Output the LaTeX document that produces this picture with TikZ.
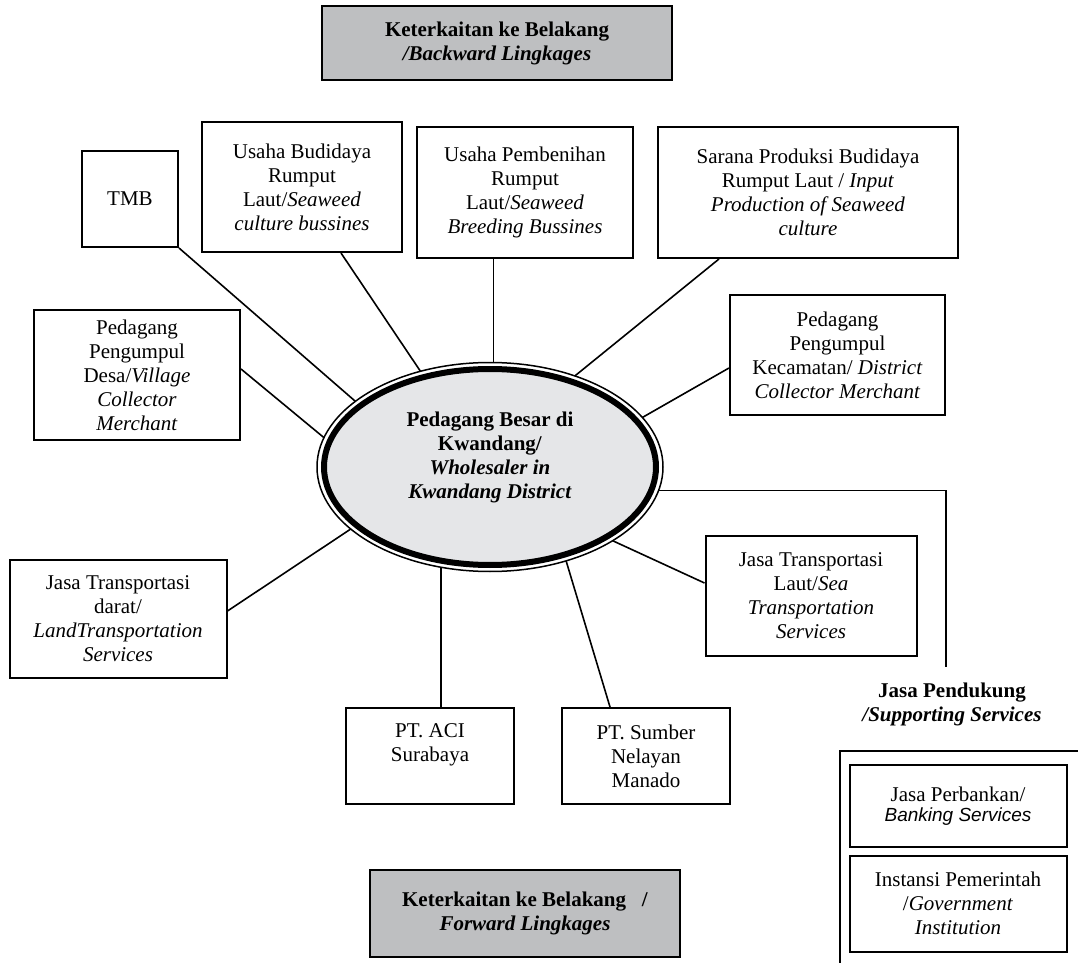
\documentclass[tikz,border=0pt]{standalone}
\usepackage{fontspec}
\setmainfont{Liberation Serif}
\setsansfont{Liberation Sans}
\usepackage{tikz}
\usetikzlibrary{calc,shapes.geometric}
\definecolor{boxgray}{RGB}{190,191,193}
\definecolor{hubgray}{RGB}{229,230,232}

\begin{document}
\begin{tikzpicture}[x=0.5pt, y=-0.5pt,
	box/.style={draw, line width=1pt, rectangle, align=center, inner sep=0pt, font=\fontsize{10.5}{12}\selectfont},
	graybox/.style={box, fill=boxgray, line width=1.2pt},
	link/.style={line width=0.8pt}]
	
	\useasboundingbox (0,0) rectangle (1078,963);
	
	% Centre
	\node[ellipse, draw, line width=3pt, fill=hubgray, minimum width=166pt, minimum height=98pt, inner sep=0pt, outer sep=3.4pt, font=\fontsize{10.5}{12}\selectfont] (hub) at (490,467) {\raisebox{2pt}[0pt][0pt]{\begin{tabular}{@{}c@{}}\textbf{Pedagang Besar di}\\ \textbf{Kwandang/}\\ \textbf{\textit{Wholesaler in}}\\ \textbf{\textit{Kwandang District}}\end{tabular}}};
	\draw[line width=0.75pt] (hub.center) ellipse [x radius=86.5pt, y radius=52.25pt];
	
	% Linkage headers
	\node[graybox, minimum width=175pt, minimum height=37pt] (back) at (497,43) {\textbf{Keterkaitan ke Belakang}\\\textbf{\textit{/Backward Lingkages}}};
	\node[graybox, minimum width=155pt, minimum height=43.5pt] (fwd) at (525,913.5) {\textbf{Keterkaitan ke Belakang\ \ \ /}\\\textbf{\textit{Forward Lingkages}}};
	
	% Boxes
	\node[box, minimum width=48pt, minimum height=48pt] (tmb) at (130,199) {TMB};
	\node[box, minimum width=100pt, minimum height=65pt] (bud) at (302,187) {Usaha Budidaya\\Rumput\\Laut/\textit{Seaweed}\\\textit{culture bussines}};
	\node[box, minimum width=108pt, minimum height=65.5pt] (pemb) at (525,192.5) {Usaha Pembenihan\\Rumput\\Laut/\textit{Seaweed}\\\textit{Breeding Bussines}};
	\node[box, minimum width=150pt, minimum height=65.5pt] (sar) at (808,192.5) {Sarana Produksi Budidaya\\Rumput Laut / \textit{Input}\\\textit{Production of Seaweed}\\\textit{culture}};
	\node[box, minimum width=103pt, minimum height=65pt] (desa) at (137,375) {Pedagang\\Pengumpul\\Desa/\textit{Village}\\\textit{Collector}\\\textit{Merchant}};
	\node[box, minimum width=107.5pt, minimum height=59.5pt] (kec) at (837.5,355) {Pedagang\\Pengumpul\\Kecamatan/ \textit{District}\\\textit{Collector Merchant}};
	\node[box, minimum width=108.5pt, minimum height=59pt] (darat) at (118,619) {Jasa Transportasi\\darat/\\\textit{LandTransportation}\\\textit{Services}};
	\node[box, minimum width=105.5pt, minimum height=60pt] (laut) at (811,596) {Jasa Transportasi\\Laut/\textit{Sea}\\\textit{Transportation}\\\textit{Services}};
	\node[box, minimum width=84pt, minimum height=48pt] (aci) at (430,756) {\raisebox{2.8pt}[0pt][0pt]{\begin{tabular}{@{}c@{}}PT. ACI\\Surabaya\end{tabular}}};
	\node[box, minimum width=84pt, minimum height=48pt] (sumber) at (646,756) {PT. Sumber\\Nelayan\\Manado};
	
	% Supporting services
	\node[align=center, font=\fontsize{10.5}{12}\selectfont] (supp) at (952,704) {\textbf{Jasa Pendukung}\\\textbf{\textit{/Supporting Services}}};
	\coordinate (suppend) at (946,667);
	\coordinate (frame) at (840,751);
	\draw[line width=1pt] (840,963) -- (frame) -- (1078,751);
	\node[box, minimum width=108.5pt, minimum height=41pt] (bank) at (958,806) {Jasa Perbankan/\\[-2pt]{\sffamily\itshape\fontsize{9.5}{11}\selectfont Banking Services}};
	\node[box, minimum width=108.5pt, minimum height=48pt] (gov) at (958,903.5) {Instansi Pemerintah\\/\textit{Government}\\\textit{Institution}};
	
	% Lines
	\draw[link] (tmb.south east) -- (hub.154);
	\draw[link] ($(bud.south west)+(140,0)$) -- (hub.126);
	\draw[link] (hub.88) -- (hub.88 |- pemb.south);
	\draw[link] ($(sar.south west)+(62,0)$) -- (hub.47);
	\draw[link] ($(desa.east)+(0,-6)$) -- (hub.170);
	\draw[link] ($(kec.west)+(0,13)$) -- (hub.18);
	\draw[link] ($(darat.east)+(0,-8)$) -- (hub.204);
	\draw[link] ($(laut.west)+(0,-13)$) -- (hub.-31);
	\draw[link] (hub.244) -- (hub.244 |- aci.north);
	\draw[link] ($(sumber.north)+(-36,0)$) -- (hub.-51);
	\draw[link] (hub.-8) -| (suppend);
	
\end{tikzpicture}
\end{document}
